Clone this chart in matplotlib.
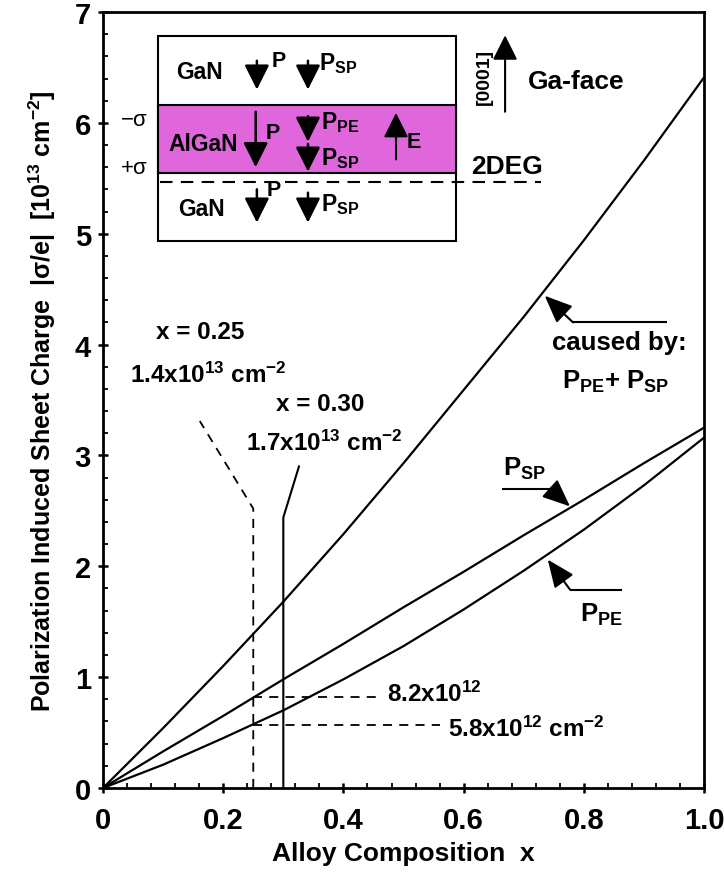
import matplotlib
matplotlib.use('Agg')
import matplotlib.pyplot as plt
from matplotlib.patches import Rectangle
from matplotlib.ticker import MultipleLocator

# ---------------- data ----------------
x_comp = [0.0, 0.1, 0.2, 0.3, 0.4, 0.5, 0.6, 0.7, 0.8, 0.9, 1.0]
p_sp = [0.0, 0.33, 0.65, 0.98, 1.30, 1.63, 1.95, 2.28, 2.60, 2.93, 3.25]
p_pe = [0.0, 0.21, 0.45, 0.70, 0.98, 1.28, 1.61, 1.96, 2.33, 2.73, 3.16]
p_total = [0.0, 0.54, 1.10, 1.68, 2.29, 2.93, 3.59, 4.25, 4.94, 5.66, 6.41]

x_marks = [0.25, 0.30]          # marked compositions
sp_at_mark = 0.82               # 8.2e12 at x = 0.25
pe_at_mark = 0.57               # 5.8e12 at x = 0.25

xticks = [0, 0.2, 0.4, 0.6, 0.8, 1.0]
xtick_labels = ['0', '0.2', '0.4', '0.6', '0.8', '1.0']
yticks = [0, 1, 2, 3, 4, 5, 6, 7]

# ---------------- style ----------------
plt.rcParams['font.family'] = ['Liberation Sans', 'DejaVu Sans']
plt.rcParams['font.weight'] = 'bold'
plt.rcParams['mathtext.fontset'] = 'custom'
plt.rcParams['mathtext.rm'] = 'Liberation Sans'
plt.rcParams['mathtext.bf'] = 'Liberation Sans:bold'
plt.rcParams['mathtext.it'] = 'Liberation Sans:italic'
plt.rcParams['mathtext.default'] = 'bf'

fig = plt.figure(figsize=(7.24, 8.78), dpi=100)
ax = fig.add_axes([0.1423, 0.1014, 0.8301, 0.8838])

lw_curve = 1.6
ax.plot(x_comp, p_total, color='black', lw=lw_curve, zorder=3)
ax.plot(x_comp, p_sp, color='black', lw=lw_curve, zorder=3)
ax.plot(x_comp, p_pe, color='black', lw=lw_curve, zorder=3)

ax.set_xlim(0, 1.0)
ax.set_ylim(0, 7)
ax.set_xticks(xticks)
ax.set_xticklabels(xtick_labels)
ax.set_yticks(yticks)
ax.xaxis.set_minor_locator(MultipleLocator(0.04))
ax.yaxis.set_minor_locator(MultipleLocator(0.2))
ax.tick_params(which='major', direction='inout', length=7.5, width=1.8, pad=5)
ax.tick_params(axis='x', which='major', pad=9)
ax.tick_params(which='minor', direction='in', length=3.6, width=1.3)
for lab in ax.get_xticklabels() + ax.get_yticklabels():
    lab.set_fontweight('bold')
    lab.set_fontsize(21)
for s in ax.spines.values():
    s.set_linewidth(2.0)

ax.set_xlabel('Alloy Composition  x', fontsize=19, fontweight='bold', labelpad=5)
ax.set_ylabel(r'Polarization Induced Sheet Charge  |σ/e|  [10$^{13}$ cm$^{-2}$]',
              fontsize=18, fontweight='bold', labelpad=12)

# ---------------- marker lines at x = 0.25 and 0.30 ----------------
dash = (0, (5, 4))
ax.plot([x_marks[0], x_marks[0], 0.161], [0, 2.52, 3.31], color='black',
        lw=1.3, ls=dash, zorder=2)
ax.plot([x_marks[1], x_marks[1], 0.326], [0, 2.44, 2.90], color='black',
        lw=1.5, zorder=2)
ax.plot([x_marks[0], 0.456], [sp_at_mark, sp_at_mark], color='black', lw=1.3, ls=dash)
ax.plot([x_marks[0], 0.560], [pe_at_mark, pe_at_mark], color='black', lw=1.3, ls=dash)

fs_ann = 17.5
ax.text(0.161, 4.12, 'x = 0.25', fontsize=fs_ann, ha='center', va='center')
ax.text(0.175, 3.73, r'1.4x10$^{13}$ cm$^{-2}$', fontsize=fs_ann, ha='center', va='center')
ax.text(0.361, 3.47, 'x = 0.30', fontsize=fs_ann, ha='center', va='center')
ax.text(0.368, 3.12, r'1.7x10$^{13}$ cm$^{-2}$', fontsize=fs_ann, ha='center', va='center')
ax.text(0.473, 0.85, r'8.2x10$^{12}$', fontsize=fs_ann, ha='left', va='center')
ax.text(0.574, 0.54, r'5.8x10$^{12}$ cm$^{-2}$', fontsize=fs_ann, ha='left', va='center')

# ---------------- leader arrows ----------------
def leader(pts, tip):
    xs = [p[0] for p in pts]
    ys = [p[1] for p in pts]
    ax.plot(xs, ys, color='black', lw=1.5, solid_capstyle='butt')
    ax.annotate('', xy=tip, xytext=pts[-1],
                arrowprops=dict(arrowstyle='-|>,head_length=0.85,head_width=0.36',
                                mutation_scale=20, color='black', lw=1.5,
                                shrinkA=0, shrinkB=0))

leader([(0.938, 4.20), (0.782, 4.20)], (0.735, 4.44))
leader([(0.664, 2.70), (0.744, 2.70)], (0.777, 2.54))
leader([(0.864, 1.79), (0.777, 1.79)], (0.740, 2.06))

ax.text(0.747, 4.02, 'caused by:', fontsize=18.5, ha='left', va='center')
ax.text(0.764, 3.67, r'P$_{PE}$+ P$_{SP}$', fontsize=18.5, ha='left', va='center')
ax.text(0.666, 2.89, r'P$_{SP}$', fontsize=18.5, ha='left', va='center')
ax.text(0.794, 1.57, r'P$_{PE}$', fontsize=18.5, ha='left', va='center')

# ---------------- inset diagram ----------------
bx0, bx1 = 0.0915, 0.587
by0, by1 = 4.93, 6.78
al0, al1 = 5.55, 6.16
ax.add_patch(Rectangle((bx0, by0), bx1 - bx0, by1 - by0, facecolor='white',
                       edgecolor='black', lw=1.5, zorder=4))
ax.add_patch(Rectangle((bx0, al0), bx1 - bx0, al1 - al0, facecolor='#e066dc',
                       edgecolor='black', lw=1.5, zorder=5))
ax.plot([0.095, 0.729], [5.47, 5.47], color='black', lw=1.5, ls=(0, (6, 4)), zorder=6)

def down_arrow(xp, ytop, ybot, scale=19):
    ax.annotate('', xy=(xp, ybot), xytext=(xp, ytop),
                arrowprops=dict(arrowstyle='-|>,head_length=0.8,head_width=0.4',
                                mutation_scale=scale, color='black', lw=1.8,
                                shrinkA=0, shrinkB=0), zorder=7)

fs_in = 16.5
z = 7
# top GaN
ax.text(0.160, 6.46, 'GaN', fontsize=fs_in, ha='center', va='center', zorder=z)
down_arrow(0.256, 6.56, 6.30)
ax.text(0.281, 6.56, 'P', fontsize=fs_in - 1, ha='left', va='center', zorder=z)
down_arrow(0.341, 6.56, 6.30)
ax.text(0.359, 6.54, r'P$_{SP}$', fontsize=fs_in, ha='left', va='center', zorder=z)
# AlGaN
ax.text(0.167, 5.81, 'AlGaN', fontsize=fs_in, ha='center', va='center', zorder=z)
down_arrow(0.254, 6.10, 5.60)
ax.text(0.270, 5.91, 'P', fontsize=fs_in - 1, ha='left', va='center', zorder=z)
down_arrow(0.341, 6.06, 5.83)
ax.text(0.362, 6.01, r'P$_{PE}$', fontsize=fs_in, ha='left', va='center', zorder=z)
down_arrow(0.341, 5.81, 5.56)
ax.text(0.362, 5.69, r'P$_{SP}$', fontsize=fs_in, ha='left', va='center', zorder=z)
ax.annotate('', xy=(0.4875, 6.09), xytext=(0.4875, 5.67),
            arrowprops=dict(arrowstyle='-|>,head_length=0.8,head_width=0.4',
                            mutation_scale=19, color='black', lw=1.5,
                            shrinkA=0, shrinkB=0), zorder=7)
ax.text(0.505, 5.83, 'E', fontsize=fs_in - 1, ha='left', va='center', zorder=z)
# bottom GaN
ax.text(0.163, 5.23, 'GaN', fontsize=fs_in, ha='center', va='center', zorder=z)
down_arrow(0.256, 5.40, 5.10)
ax.text(0.273, 5.40, 'P', fontsize=fs_in - 1, ha='left', va='center', zorder=z)
down_arrow(0.341, 5.37, 5.10)
ax.text(0.362, 5.27, r'P$_{SP}$', fontsize=fs_in, ha='left', va='center', zorder=z)

# sheet charges
ax.text(0.030, 6.03, '−σ', fontsize=16, fontweight='normal', ha='left', va='center')
ax.text(0.030, 5.60, '+σ', fontsize=16, fontweight='normal', ha='left', va='center')

# orientation
ax.text(0.634, 6.42, '[0001]', fontsize=14, rotation=90, ha='center', va='center')
ax.annotate('', xy=(0.669, 6.79), xytext=(0.669, 6.10),
            arrowprops=dict(arrowstyle='-|>,head_length=0.8,head_width=0.4',
                            mutation_scale=19, color='black', lw=1.5,
                            shrinkA=0, shrinkB=0))
ax.text(0.707, 6.38, 'Ga-face', fontsize=19, ha='left', va='center')
ax.text(0.612, 5.61, '2DEG', fontsize=19, ha='left', va='center')

fig.savefig('out.png', dpi=100)
